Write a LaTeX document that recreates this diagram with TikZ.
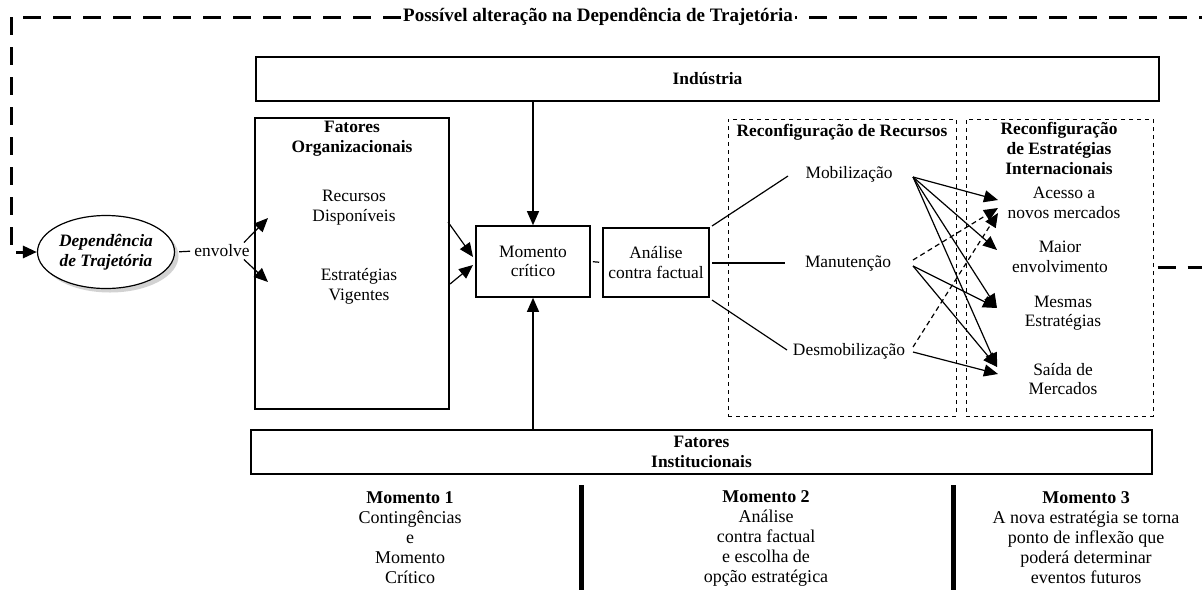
\documentclass[tikz,border=0pt]{standalone}
\usepackage{fontspec}
\setmainfont{Liberation Serif}
\usetikzlibrary{arrows.meta,shadows,calc,shapes.geometric}
\begin{document}
\begin{tikzpicture}[x=0.5pt,y=-0.5pt,
  txt/.style={align=center,font=\fontsize{8.7}{9.8}\selectfont,inner sep=0pt},
  btxt/.style={align=center,font=\fontsize{8.7}{10}\selectfont\bfseries,inner sep=0pt},
  box/.style={draw,line width=0.8pt,inner sep=0pt},
  dbox/.style={draw,line width=0.5pt,dash pattern=on 2pt off 2pt,inner sep=0pt},
  tip/.style={-{Triangle[length=7pt,width=6pt]}},
  arr/.style={line width=0.6pt,tip},
  darr/.style={line width=0.6pt,tip,dash pattern=on 2.5pt off 1.8pt},
  conn/.style={line width=0.6pt},
  loopline/.style={line width=1.5pt,dash pattern=on 9pt off 6pt},
  bar/.style={line width=2.5pt},
  mtxt/.style={align=center,font=\fontsize{9}{10}\selectfont,inner sep=0pt}
]
\useasboundingbox (0,0) rectangle (1202,590);

% main boxes
\node[box,btxt,minimum width=451.5pt,minimum height=22pt] (ind) at (707.5,79) {Indústria};
\node[box,minimum width=97pt,minimum height=145.5pt] (forg) at (352,263.5) {};
\node[btxt] (forgt) at (352,139) {Fatores\\Organizacionais};
\node[txt] (rec) at (354,207.5) {Recursos\\Disponíveis};
\node[txt] (est) at (359,286.5) {Estratégias\\Vigentes};
\node[box,txt,minimum width=57pt,minimum height=35.5pt] (mc) at (533,261.5) {Momento\\crítico};
\node[box,txt,minimum width=53pt,minimum height=34.5pt] (acf) at (656,262.5) {Análise\\contra factual};
\node[dbox,minimum width=114pt,minimum height=148.5pt] (rr) at (842,267.5) {};
\node[btxt] (rrt) at (842,132) {Reconfiguração de Recursos};
\node[dbox,minimum width=93.5pt,minimum height=148.5pt] (re) at (1059.5,267.5) {};
\node[btxt] (ret) at (1059,148) {Reconfiguração\\de Estratégias\\Internacionais};
\node[txt] (mob) at (849,174) {Mobilização};
\node[txt] (man) at (848,263) {Manutenção};
\node[txt] (des) at (849,351) {Desmobilização};
\node[txt] (ace) at (1064,203) {Acesso a\\novos mercados};
\node[txt] (mai) at (1060,257) {Maior\\envolvimento};
\node[txt] (mes) at (1063,313) {Mesmas\\Estratégias};
\node[txt] (sai) at (1063,379) {Saída de\\Mercados};
\node[box,btxt,minimum width=450.5pt,minimum height=22pt] (fi) at (701.5,452) {Fatores\\Institucionais};

% ellipse
\node[ellipse,draw,line width=0.6pt,fill=white,
  drop shadow={shadow xshift=2pt,shadow yshift=-2pt,fill=gray!70},
  minimum width=68.5pt,minimum height=36.5pt,inner sep=0pt,align=center,
  font=\fontsize{8.7}{10}\selectfont\bfseries\itshape] (dt) at (106,252) {Dependência\\de Trajetória};
\node[txt] (env) at (222,251) {envolve};

% loop
\node[font=\fontsize{9.5}{11}\selectfont\bfseries,inner sep=1pt] (lbl) at (598,17) {Possível alteração na Dependência de Trajetória};
\coordinate (tend) at (1202,17);
\coordinate (rend) at (1202,267.5);
\draw[loopline,tip] (lbl.west) -- (11,17) -- (11,252) -- (dt.west);
\draw[loopline,dash phase=8pt] (lbl.east) -- (tend);
\draw[loopline] ([xshift=2pt]re.east) -- (rend);

% envolve
\draw[conn,shorten <=2pt,shorten >=2pt] (dt.east) -- (env.west);
\coordinate (e1t) at (268,218);
\coordinate (e2t) at (268,282);
\draw[arr] ([xshift=-3pt,yshift=1pt]env.north east) -- (e1t);
\draw[arr] ([xshift=-3pt,yshift=-1pt]env.south east) -- (e2t);

% organizacionais -> momento critico
\coordinate (f1s) at (448,222); \coordinate (f1t) at (473,257);
\coordinate (f2s) at (450,284); \coordinate (f2t) at (473,265);
\draw[arr] (f1s) -- (f1t);
\draw[arr] (f2s) -- (f2t);

\draw[arr] (ind.south -| mc.north) -- (mc.north);
\draw[arr] (fi.north -| mc.south) -- (mc.south);
\draw[conn,shorten <=1pt,shorten >=1.5pt] (mc.east) -- (acf.west);

% analise -> options
\coordinate (l1s) at (712,226); \coordinate (l1e) at (788,176);
\coordinate (l2s) at (712,263); \coordinate (l2e) at (785,263);
\coordinate (l3s) at (712,300); \coordinate (l3e) at (787,350);
\draw[conn] (l1s) -- (l1e);
\draw[conn] (l2s) -- (l2e);
\draw[conn] (l3s) -- (l3e);

% options -> strategies
\coordinate (mo) at (913,177);
\coordinate (ma1) at (913,260); \coordinate (ma2) at (913,266);
\coordinate (de1) at (913,347); \coordinate (de2) at (913,352);
\coordinate (tA) at (998,200); \coordinate (tAd1) at (998,208); \coordinate (tAd2) at (998,213);
\coordinate (tB) at (997,250);
\coordinate (tC) at (997,308);
\coordinate (tD) at (997,367); \coordinate (tD2) at (998,374);
\draw[arr] (mo) -- (tA);
\draw[arr] (mo) -- (tB);
\draw[arr] (mo) -- (tC);
\draw[arr] (mo) -- (tD);
\draw[darr] (ma1) -- (tAd1);
\draw[arr] (ma2) -- (tC);
\draw[arr] (ma2) -- (tD);
\draw[darr] (de1) -- (tAd2);
\draw[arr] (de2) -- (tD2);

% bottom moments
\node[mtxt] (m1) at (410,538) {\textbf{Momento 1}\\Contingências\\e\\Momento\\Crítico};
\node[mtxt] (m2) at (766,538) {\textbf{Momento 2}\\Análise\\contra factual\\e escolha de\\opção estratégica};
\node[mtxt] (m3) at (1086,538) {\textbf{Momento 3}\\A nova estratégia se torna\\ponto de inflexão que\\poderá determinar\\eventos futuros};
\coordinate (b1t) at (581,485); \coordinate (b1b) at (581,590);
\coordinate (b2t) at (953,485); \coordinate (b2b) at (953,590);
\draw[bar] (b1t) -- (b1b);
\draw[bar] (b2t) -- (b2b);
\end{tikzpicture}
\end{document}
